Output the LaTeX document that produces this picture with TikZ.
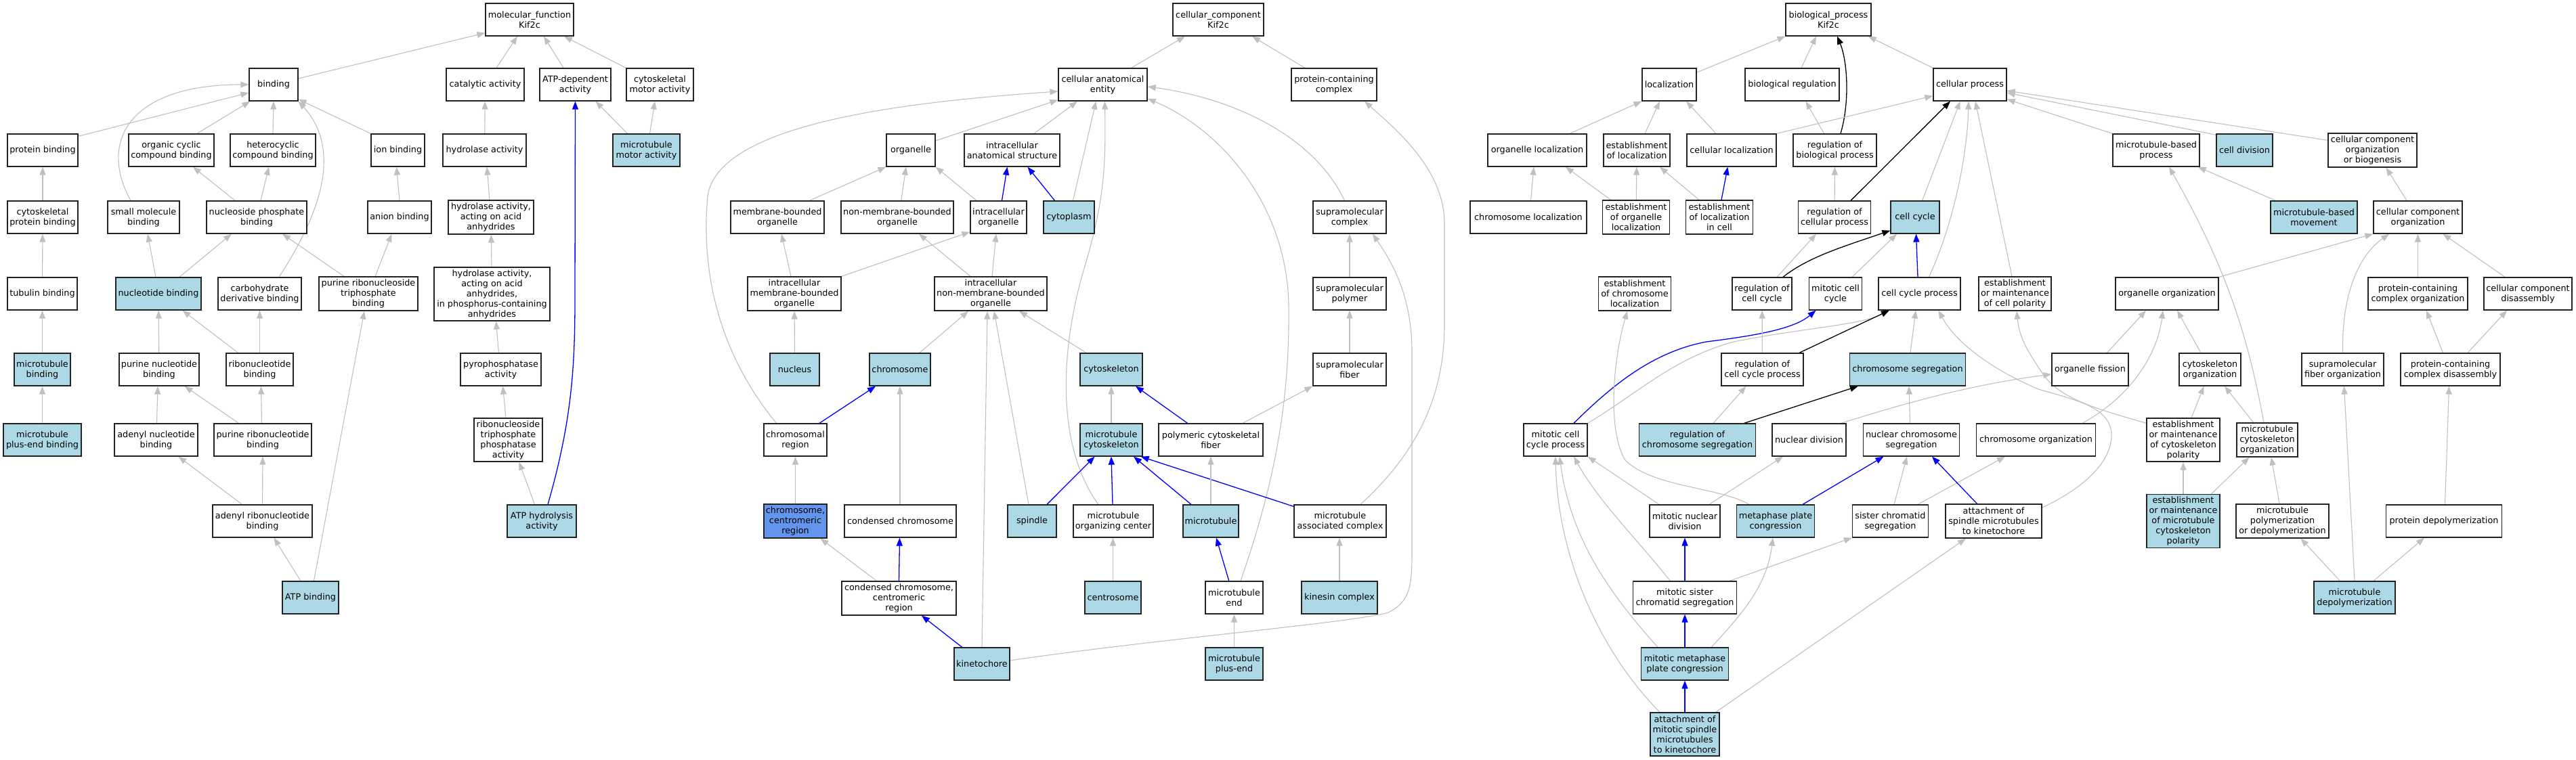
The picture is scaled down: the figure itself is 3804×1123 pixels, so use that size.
\documentclass[tikz,border=0pt]{standalone}
\usepackage{fontspec}
\setmainfont{DejaVu Sans}
\usetikzlibrary{arrows.meta,backgrounds}
\definecolor{lb}{HTML}{ADD8E6}
\definecolor{cfb}{HTML}{6495ED}
\definecolor{eg}{HTML}{C0C0C0}
\definecolor{bd}{HTML}{222222}
\newcommand{\nd}[7]{\node[box,fill=#6,minimum width=#4pt,minimum height=#5pt] (#1) at (#2,#3) {#7};}
\begin{document}
\begin{tikzpicture}[x=1pt,y=-1pt,
 box/.style={draw=bd,line width=1.3pt,inner sep=0pt,align=center,font=\fontsize{12.8}{15}\selectfont},
 ge/.style={draw=eg,line width=1.1pt,-{Triangle[length=12pt,width=9pt]}},
 be/.style={draw=blue,line width=1.3pt,-{Triangle[length=12pt,width=9pt]}},
 ke/.style={draw=black,line width=1.3pt,-{Triangle[length=12pt,width=9pt]}}]
\useasboundingbox (0,0) rectangle (3804,1123);
% ---------- MF nodes
\nd{mf}{782}{29}{130}{48}{white}{molecular\_function\\Kif2c}
\nd{binding}{404}{125}{72}{48}{white}{binding}
\nd{catalytic}{716.5}{125}{115}{48}{white}{catalytic activity}
\nd{atpdep}{849.5}{125}{105}{48}{white}{ATP-dependent\\activity}
\nd{cytomotor}{974.5}{125}{99}{48}{white}{cytoskeletal\\motor activity}
\nd{protbind}{63}{222}{104}{48}{white}{protein binding}
\nd{organic}{253}{222}{126}{48}{white}{organic cyclic\\compound binding}
\nd{hetero}{403}{222}{126}{48}{white}{heterocyclic\\compound binding}
\nd{ionbind}{587.5}{222}{79}{48}{white}{ion binding}
\nd{hydrolase}{715.5}{222}{123}{48}{white}{hydrolase activity}
\nd{mtmotor}{954.5}{222}{99}{48}{lb}{microtubule\\motor activity}
\nd{cytoprot}{63}{321}{104}{48}{white}{cytoskeletal\\protein binding}
\nd{smallmol}{212}{321}{106}{48}{white}{small molecule\\binding}
\nd{nucphos}{379}{321}{148}{48}{white}{nucleoside phosphate\\binding}
\nd{anion}{590}{321}{94}{48}{white}{anion binding}
\nd{hydacid}{725}{321}{126}{50}{white}{hydrolase activity,\\acting on acid\\anhydrides}
\nd{tubulin}{62.5}{434}{103}{48}{white}{tubulin binding}
\nd{nucleotide}{234}{434}{126}{48}{lb}{nucleotide binding}
\nd{carb}{383.5}{434}{123}{48}{white}{carbohydrate\\derivative binding}
\nd{prtp}{544}{434}{146}{50}{white}{purine ribonucleoside\\triphosphate\\binding}
\nd{hydphos}{726.5}{434.5}{171}{79}{white}{hydrolase activity,\\acting on acid\\anhydrides,\\in phosphorus-containing\\anhydrides}
\nd{mtbind}{62.5}{546}{83}{48}{lb}{microtubule\\binding}
\nd{purnuc}{235}{546}{118}{48}{white}{purine nucleotide\\binding}
\nd{ribonuc}{383.5}{546}{99}{48}{white}{ribonucleotide\\binding}
\nd{pyro}{739.5}{546}{119}{48}{white}{pyrophosphatase\\activity}
\nd{mtplus}{62.5}{650}{115}{48}{lb}{microtubule\\plus-end binding}
\nd{adenyl}{230.5}{650}{123}{48}{white}{adenyl nucleotide\\binding}
\nd{purribo}{388}{650}{144}{48}{white}{purine ribonucleotide\\binding}
\nd{rtpp}{750.5}{650}{101}{64}{white}{ribonucleoside\\triphosphate\\phosphatase\\activity}
\nd{adenylribo}{387.5}{770}{147}{48}{white}{adenyl ribonucleotide\\binding}
\nd{atphyd}{800}{770}{102}{48}{lb}{ATP hydrolysis\\activity}
\nd{atpbind}{458.5}{883}{83}{48}{lb}{ATP binding}
% ---------- CC nodes
\nd{cc}{1799}{29}{134}{48}{white}{cellular\_component\\Kif2c}
\nd{cae}{1628.5}{125}{131}{48}{white}{cellular anatomical\\entity}
\nd{pcc}{1970}{125}{126}{48}{white}{protein-containing\\complex}
\nd{organelle}{1345}{222}{72}{48}{white}{organelle}
\nd{ias}{1494.5}{222}{141}{48}{white}{intracellular\\anatomical structure}
\nd{mbo}{1148}{321}{138}{48}{white}{membrane-bounded\\organelle}
\nd{nmbo}{1325}{321}{166}{48}{white}{non-membrane-bounded\\organelle}
\nd{intorg}{1474.5}{321}{83}{48}{white}{intracellular\\organelle}
\nd{cytoplasm}{1578.5}{321}{75}{48}{lb}{cytoplasm}
\nd{supcomplex}{1993}{321}{108}{48}{white}{supramolecular\\complex}
\nd{imbo}{1173}{434}{138}{50}{white}{intracellular\\membrane-bounded\\organelle}
\nd{inmbo}{1463}{434}{166}{50}{white}{intracellular\\non-membrane-bounded\\organelle}
\nd{suppolymer}{1993}{434}{108}{48}{white}{supramolecular\\polymer}
\nd{nucleus}{1173.5}{546}{73}{48}{lb}{nucleus}
\nd{chromosome}{1329}{546}{90}{48}{lb}{chromosome}
\nd{cytoskeleton}{1641}{546}{92}{48}{lb}{cytoskeleton}
\nd{supfiber}{1993}{546}{108}{48}{white}{supramolecular\\fiber}
\nd{chromreg}{1174.5}{650}{93}{48}{white}{chromosomal\\region}
\nd{mtcyto}{1641}{650}{92}{48}{lb}{microtubule\\cytoskeleton}
\nd{pcf}{1788}{650}{154}{48}{white}{polymeric cytoskeletal\\fiber}
\nd{ccr}{1174.5}{770}{93}{50}{cfb}{chromosome,\\centromeric\\region}
\nd{condchrom}{1329.5}{770}{165}{48}{white}{condensed chromosome}
\nd{spindle}{1524}{770}{72}{48}{lb}{spindle}
\nd{mtoc}{1644}{770}{118}{48}{white}{microtubule\\organizing center}
\nd{microtubule}{1788}{770}{82}{48}{lb}{microtubule}
\nd{mac}{1979}{770}{136}{48}{white}{microtubule\\associated complex}
\nd{cccr}{1327.5}{884}{169}{50}{white}{condensed chromosome,\\centromeric\\region}
\nd{centrosome}{1643.5}{883}{83}{48}{lb}{centrosome}
\nd{mtend}{1822.5}{883}{85}{48}{white}{microtubule\\end}
\nd{kinesin}{1978}{883}{112}{48}{lb}{kinesin complex}
\nd{kinetochore}{1450}{981}{82}{48}{lb}{kinetochore}
\nd{mtplusend}{1822.5}{981}{85}{48}{lb}{microtubule\\plus-end}
% ---------- BP nodes
\nd{bp}{2700}{29}{126}{48}{white}{biological\_process\\Kif2c}
\nd{localization}{2465}{125}{80}{48}{white}{localization}
\nd{bioreg}{2646.5}{125}{139}{48}{white}{biological regulation}
\nd{cellproc}{2909}{125}{108}{48}{white}{cellular process}
\nd{orgloc}{2270}{222}{146}{48}{white}{organelle localization}
\nd{estloc}{2417}{222}{98}{48}{white}{establishment\\of localization}
\nd{cellloc}{2557}{222}{132}{48}{white}{cellular localization}
\nd{regbp}{2709.5}{222}{123}{48}{white}{regulation of\\biological process}
\nd{mtbp}{3184}{222}{128}{48}{white}{microtubule-based\\process}
\nd{celldiv}{3314.5}{222}{83}{48}{lb}{cell division}
\nd{ccob}{3503.5}{222}{131}{50}{white}{cellular component\\organization\\or biogenesis}
\nd{chromloc}{2257}{321}{172}{48}{white}{chromosome localization}
\nd{estorgloc}{2416}{321}{99}{50}{white}{establishment\\of organelle\\localization}
\nd{estlocincell}{2539}{321}{99}{50}{white}{establishment\\of localization\\in cell}
\nd{regcp}{2709}{321}{107}{48}{white}{regulation of\\cellular process}
\nd{cellcycle}{2828}{321}{72}{48}{lb}{cell cycle}
\nd{mtbmove}{3417}{321}{128}{48}{lb}{microtubule-based\\movement}
\nd{cco}{3570.5}{321}{131}{48}{white}{cellular component\\organization}
\nd{regcc}{2602}{434}{88}{48}{white}{regulation of\\cell cycle}
\nd{mitcc}{2710.5}{434}{78}{48}{white}{mitotic cell\\cycle}
\nd{ccp}{2834.5}{434}{121}{48}{white}{cell cycle process}
\nd{emcellpol}{2975.5}{434}{107}{50}{white}{establishment\\or maintenance\\of cell polarity}
\nd{estchromloc}{2414}{434}{107}{50}{white}{establishment\\of chromosome\\localization}
\nd{orgorg}{3200}{434}{152}{48}{white}{organelle organization}
\nd{pcco}{3570.5}{434}{147}{48}{white}{protein-containing\\complex organization}
\nd{ccd}{3733}{434}{130}{48}{white}{cellular component\\disassembly}
\nd{regccp}{2602.5}{546}{121}{48}{white}{regulation of\\cell cycle process}
\nd{chromseg}{2817}{546}{171}{48}{lb}{chromosome segregation}
\nd{orgfission}{3086.5}{546}{113}{48}{white}{organelle fission}
\nd{cytoorg}{3263.5}{546}{91}{48}{white}{cytoskeleton\\organization}
\nd{sfo}{3459.5}{546}{121}{48}{white}{supramolecular\\fiber organization}
\nd{pccd}{3618.5}{546}{147}{48}{white}{protein-containing\\complex disassembly}
\nd{mccp}{2297}{650}{94}{48}{white}{mitotic cell\\cycle process}
\nd{regchromseg}{2506.5}{650}{172}{48}{lb}{regulation of\\chromosome segregation}
\nd{nucdiv}{2671.5}{650}{109}{48}{white}{nuclear division}
\nd{ncs}{2822.5}{650}{142}{48}{white}{nuclear chromosome\\segregation}
\nd{chromorg}{3006.5}{650}{176}{48}{white}{chromosome organization}
\nd{emcp}{3224}{650}{108}{64}{white}{establishment\\or maintenance\\of cytoskeleton\\polarity}
\nd{mco}{3348}{650}{90}{50}{white}{microtubule\\cytoskeleton\\organization}
\nd{mnd}{2488}{770}{104}{48}{white}{mitotic nuclear\\division}
\nd{mpc}{2622}{770}{115}{48}{lb}{metaphase plate\\congression}
\nd{scs}{2791.5}{770}{112}{48}{white}{sister chromatid\\segregation}
\nd{asmk}{2944}{770}{142}{50}{white}{attachment of\\spindle microtubules\\to kinetochore}
\nd{emmcp}{3224}{770}{108}{79}{lb}{establishment\\or maintenance\\of microtubule\\cytoskeleton\\polarity}
\nd{mpod}{3370.5}{770}{137}{50}{white}{microtubule\\polymerization\\or depolymerization}
\nd{protdepol}{3609}{770}{171}{48}{white}{protein depolymerization}
\nd{mscs}{2488}{883}{153}{48}{white}{mitotic sister\\chromatid segregation}
\nd{mtdepol}{3477}{883}{120}{48}{lb}{microtubule\\depolymerization}
\nd{mmpc}{2488}{981}{129}{48}{lb}{mitotic metaphase\\plate congression}
\nd{amsmk}{2488}{1085}{102}{64}{lb}{attachment of\\mitotic spindle\\microtubules\\to kinetochore}
\begin{scope}[on background layer]
\fill[white] (0,0) rectangle (3804,1123);
% ---------- MF edges
\draw[ge] ([yshift=9pt]binding.east) -- ([yshift=5pt]mf.south west);
\draw[ge] ([xshift=16.5pt]catalytic.north) -- ([xshift=-18pt]mf.south);
\draw[ge] ([xshift=-17.5pt]atpdep.north) -- ([xshift=21pt]mf.south);
\draw[ge] (cytomotor.north west) -- ([xshift=51pt]mf.south);
\draw[ge] ([yshift=-4pt]protbind.north east) -- ([yshift=-12pt]binding.west);
\draw[ge] ([xshift=-19pt]smallmol.north) .. controls (145,210) and (190,125) .. (binding.west);
\draw[ge] ([xshift=38pt]organic.north) -- ([xshift=2pt]binding.south west);
\draw[ge] (hetero.north) -- (binding.south);
\draw[ge] ([xshift=28.5pt]carb.north) .. controls (490,290) and (495,210) .. (binding.south east);
\draw[ge] (ionbind.north west) -- ([yshift=3pt]binding.south east);
\draw[ge] ([xshift=-32pt]nucphos.north) -- ([xshift=32pt]organic.south);
\draw[ge] ([xshift=6pt]nucphos.north) -- ([xshift=-6pt]hetero.south);
\draw[ge] (cytoprot) -- (protbind);
\draw[ge] (tubulin) -- (cytoprot);
\draw[ge] (mtbind) -- (tubulin);
\draw[ge] (mtplus) -- (mtbind);
\draw[ge] (anion.north) -- ([xshift=-2pt]ionbind.south);
\draw[ge] (hydrolase) -- (catalytic);
\draw[ge] ([xshift=-2pt]hydacid.north) -- ([xshift=3.5pt]hydrolase.south);
\draw[ge] (hydphos) -- (hydacid);
\draw[ge] ([xshift=-3pt]pyro.north) -- ([xshift=6pt]hydphos.south);
\draw[ge] ([xshift=-3.5pt]rtpp.north) -- ([xshift=3pt]pyro.south);
\draw[ge] ([xshift=-10.5pt]atphyd.north) -- ([xshift=16pt]rtpp.south);
\draw[be] ([xshift=9pt]atphyd.north) .. controls (845,620) and (849,540) .. (849,440) -- (atpdep.south);
\draw[ge] ([xshift=22pt]mtmotor.north west) -- ([xshift=30pt]atpdep.south);
\draw[ge] ([xshift=5pt]mtmotor.north) -- ([xshift=-7.5pt]cytomotor.south);
\draw[ge] ([xshift=-4pt]nucleotide.north) -- ([xshift=6pt]smallmol.south);
\draw[ge] ([xshift=31pt]nucleotide.north) -- ([xshift=-37pt]nucphos.south);
\draw[ge] ([xshift=-36pt]prtp.north) -- ([xshift=38pt]nucphos.south);
\draw[ge] ([xshift=10pt]prtp.north) -- ([xshift=-11.5pt]anion.south);
\draw[ge] (purnuc) -- (nucleotide);
\draw[ge] ([xshift=-32pt]ribonuc.north) -- ([xshift=35.6pt]nucleotide.south);
\draw[ge] (ribonuc) -- (carb);
\draw[ge] ([xshift=1pt]adenyl.north) -- ([xshift=-2pt]purnuc.south);
\draw[ge] ([xshift=-35.4pt]purribo.north) -- ([xshift=37.6pt]purnuc.south);
\draw[ge] ([xshift=-1.5pt]purribo.north) -- ([xshift=2pt]ribonuc.south);
\draw[ge] ([xshift=-30pt]adenylribo.north) -- ([xshift=33pt]adenyl.south);
\draw[ge] (adenylribo) -- (purribo);
\draw[ge] ([xshift=-14.5pt]atpbind.north) -- ([xshift=17pt]adenylribo.south);
\draw[ge] ([xshift=5pt]atpbind.north) -- ([xshift=-6pt]prtp.south);
% ---------- CC edges
\draw[ge] ([xshift=42pt]cae.north) -- ([xshift=-49pt]cc.south);
\draw[ge] ([xshift=-43pt]pcc.north) -- ([xshift=50pt]cc.south);
\draw[ge] ([yshift=14pt]organelle.east) -- ([yshift=2pt]cae.south west);
\draw[ge] ([xshift=32.5pt]ias.north) -- ([xshift=-37.5pt]cae.south);
\draw[ge] ([xshift=6pt]cytoplasm.north) -- ([xshift=-10pt]cae.south);
\draw[ge] ([xshift=-22pt]mtoc.north) .. controls (1560,660) and (1565,520) .. (1600,400) .. controls (1630,300) and (1633,250) .. ([xshift=3pt]cae.south);
\draw[be] ([xshift=-21pt]cytoplasm.north) -- ([xshift=23pt]ias.south);
\draw[be] ([xshift=5pt]intorg.north) -- ([xshift=-7pt]ias.south);
\draw[ge] ([xshift=47.5pt]mbo.north) -- (organelle.south west);
\draw[ge] ([xshift=5.7pt]nmbo.north) -- ([xshift=-7pt]organelle.south);
\draw[ge] ([xshift=-32.5pt]intorg.north) -- (organelle.south east);
\draw[ge] ([xshift=-28pt]chromreg.north) .. controls (1060,520) and (1035,400) .. (1045,290) .. controls (1060,180) and (1350,150) .. ([yshift=-10pt]cae.west);
\draw[ge] ([xshift=-5pt]imbo.north) -- ([xshift=6pt]mbo.south);
\draw[ge] (imbo.north east) -- ([yshift=3pt]intorg.south west);
\draw[ge] ([xshift=-30pt]inmbo.north) -- ([xshift=32pt]nmbo.south);
\draw[ge] ([xshift=2pt]inmbo.north) -- ([xshift=-3.5pt]intorg.south);
\draw[ge] (nucleus) -- (imbo);
\draw[ge] ([xshift=29pt]chromosome.north) -- ([xshift=-33pt]inmbo.south);
\draw[ge] ([xshift=-37pt]cytoskeleton.north) -- ([xshift=42pt]inmbo.south);
\draw[ge] ([xshift=-5pt]spindle.north) -- ([xshift=5pt]inmbo.south);
\draw[ge] (kinetochore.north) -- ([xshift=-5pt]inmbo.south);
\draw[ge] ([xshift=9.5pt]mtend.north) .. controls (1880,720) and (1905,600) .. (1903,450) .. controls (1900,300) and (1800,190) .. ([yshift=4pt]cae.south east);
\draw[ge] ([xshift=-7.6pt]supcomplex.north) .. controls (1940,200) and (1820,145) .. ([yshift=-3pt]cae.east);
\draw[ge] ([xshift=30pt]mac.north) .. controls (2080,680) and (2133,600) .. (2133,480) -- (2133,330) .. controls (2133,250) and (2060,190) .. ([xshift=45pt]pcc.south);
\draw[ge] ([yshift=5pt]kinetochore.east) .. controls (1700,945) and (2000,920) .. (2050,905) .. controls (2080,890) and (2085,870) .. (2085,820) -- (2085,520) .. controls (2085,430) and (2050,380) .. ([xshift=34pt]supcomplex.south);
\draw[ge] (suppolymer) -- (supcomplex);
\draw[ge] (supfiber) -- (suppolymer);
\draw[ge] ([xshift=47pt]pcf.north) -- (supfiber.south west);
\draw[be] ([xshift=-34.4pt]pcf.north) -- ([xshift=36pt]cytoskeleton.south);
\draw[ge] (mtcyto) -- (cytoskeleton);
\draw[be] ([xshift=35.5pt]chromreg.north) -- ([xshift=-36pt]chromosome.south);
\draw[ge] (ccr) -- (chromreg);
\draw[ge] ([xshift=-0.5pt]condchrom.north) -- (chromosome.south);
\draw[be] (cccr.north) -- ([xshift=-1pt]condchrom.south);
\draw[ge] ([xshift=-33pt]cccr.north) -- ([xshift=37pt]ccr.south);
\draw[be] ([xshift=-29.3pt]kinetochore.north) -- ([xshift=33.5pt]cccr.south);
\draw[be] ([xshift=22pt]spindle.north) -- ([xshift=-24.5pt]mtcyto.south);
\draw[be] ([xshift=-1pt]mtoc.north) -- (mtcyto.south);
\draw[be] ([xshift=-29pt]microtubule.north) -- ([xshift=33pt]mtcyto.south);
\draw[be] ([yshift=-3pt]mac.north west) -- ([xshift=-3pt]mtcyto.south east);
\draw[ge] (microtubule) -- (pcf);
\draw[be] ([xshift=-7.7pt]mtend.north) -- ([xshift=8pt]microtubule.south);
\draw[ge] (centrosome.north) -- ([xshift=-0.5pt]mtoc.south);
\draw[ge] (kinesin.north) -- ([xshift=-1pt]mac.south);
\draw[ge] (mtplusend) -- (mtend);
% ---------- BP edges
\draw[ge] ([yshift=18pt]localization.east) -- (bp.south west);
\draw[ge] ([xshift=13.5pt]bioreg.north) -- ([xshift=-18pt]bp.south);
\draw[ke] ([xshift=8.5pt]regbp.north) .. controls (2732,150) and (2728,90) .. ([xshift=13pt]bp.south);
\draw[ge] (cellproc.north west) -- ([xshift=-5pt]bp.south east);
\draw[ge] ([xshift=48pt]orgloc.north) -- (localization.south west);
\draw[ge] ([xshift=12pt]estloc.north) -- ([xshift=-14pt]localization.south);
\draw[ge] ([xshift=-23pt]cellloc.north) -- ([xshift=25pt]localization.south);
\draw[ge] (cellloc.north east) -- ([yshift=8pt]cellproc.south west);
\draw[ge] ([xshift=-16pt]regbp.north) -- ([xshift=20pt]bioreg.south);
\draw[ge] ([xshift=3.5pt]chromloc.north) -- ([xshift=-5pt]orgloc.south);
\draw[ge] ([xshift=-37.4pt]estorgloc.north) -- ([xshift=42pt]orgloc.south);
\draw[ge] (estorgloc) -- (estloc);
\draw[ge] ([xshift=-30pt]estlocincell.north) -- ([xshift=34pt]estloc.south);
\draw[be] ([xshift=3pt]estlocincell.north) -- ([xshift=-5.7pt]cellloc.south);
\draw[ge] (regcp) -- (regbp);
\draw[ke] ([xshift=24pt]regcp.north) -- ([xshift=-29pt]cellproc.south);
\draw[ge] ([xshift=10.6pt]cellcycle.north) -- ([xshift=-14.4pt]cellproc.south);
\draw[ge] ([xshift=14pt]ccp.north) .. controls (2885,330) and (2905,230) .. ([xshift=-2pt]cellproc.south);
\draw[ge] ([xshift=-4.5pt]emcellpol.north) -- ([xshift=8pt]cellproc.south);
\draw[ge] (mtbp.north west) -- ([yshift=3pt]cellproc.south east);
\draw[ge] ([yshift=-2pt]celldiv.north west) -- ([yshift=-12pt]cellproc.east);
\draw[ge] ([yshift=-11pt]ccob.north west) -- ([yshift=-9pt]cellproc.east);
\draw[ge] ([xshift=8pt]mtbmove.north west) -- ([xshift=-3pt]mtbp.south east);
\draw[ge] ([xshift=-16.5pt]cco.north) -- ([xshift=20pt]ccob.south);
\draw[ge] (orgorg.north east) -- (cco.south west);
\draw[ge] (sfo.north) .. controls (3458,440) and (3480,380) .. ([xshift=-42.5pt]cco.south);
\draw[ge] (pcco) -- (cco);
\draw[ge] ([xshift=-34pt]ccd.north) -- ([xshift=37pt]cco.south);
\draw[ge] ([xshift=25pt]orgfission.north) -- ([xshift=-31pt]orgorg.south);
\draw[ge] ([xshift=68.5pt]chromorg.north) .. controls (3140,590) and (3185,530) .. ([xshift=-6pt]orgorg.south);
\draw[ge] ([xshift=-13.5pt]cytoorg.north) -- ([xshift=15pt]orgorg.south);
\draw[ge] ([xshift=-5pt]mco.north) .. controls (3320,500) and (3290,400) .. ([xshift=19pt]mtbp.south);
\draw[ge] ([xshift=-20.4pt]mco.north) -- ([xshift=21.5pt]cytoorg.south);
\draw[ge] ([xshift=12pt]emcp.north) -- ([xshift=-9pt]cytoorg.south);
\draw[ge] ([yshift=-8pt]emcp.north west) .. controls (3100,605) and (3040,590) .. (3015,550) .. controls (2995,520) and (2982,500) .. ([xshift=2.5pt]emcellpol.south);
\draw[ge] ([yshift=20pt]asmk.east) .. controls (3080,720) and (3120,680) .. (3118,640) .. controls (3115,600) and (3060,590) .. (3010,575) .. controls (2950,550) and (2890,510) .. ([xshift=28pt]ccp.south);
\draw[be] ([xshift=-2.5pt]ccp.north) -- ([xshift=1.5pt]cellcycle.south);
\draw[ge] ([xshift=24.5pt]mitcc.north) -- ([xshift=-27pt]cellcycle.south);
\draw[ke] ([xshift=31pt]regcc.north) .. controls (2670,380) and (2720,365) .. ([yshift=5pt]cellcycle.south west);
\draw[ge] ([xshift=22pt]regcc.north) -- ([xshift=-27pt]regcp.south);
\draw[be] ([xshift=27pt]mccp.north) .. controls (2380,570) and (2440,520) .. (2520,505) .. controls (2600,495) and (2650,485) .. ([xshift=-29pt]mitcc.south);
\draw[ge] (mccp.north east) .. controls (2420,580) and (2470,530) .. (2560,505) .. controls (2660,485) and (2750,480) .. ([xshift=16pt]ccp.south west);
\draw[ke] ([xshift=54.5pt]regccp.north) -- ([xshift=-44.5pt]ccp.south);
\draw[ge] (regccp) -- (regcc);
\draw[ge] ([xshift=4pt]chromseg.north) -- ([xshift=-5.5pt]ccp.south);
\draw[ge] ([xshift=23.5pt]regchromseg.north) -- ([xshift=-24pt]regccp.south);
\draw[ke] ([xshift=69pt]regchromseg.north) -- ([xshift=13pt]chromseg.south west);
\draw[ge] ([xshift=-8pt]nucdiv.north east) .. controls (2800,600) and (2900,570) .. ([yshift=-7pt]orgfission.west);
\draw[ge] ([xshift=-2pt]ncs.north) -- ([xshift=2pt]chromseg.south);
\draw[ge] ([xshift=-38pt]mnd.north) -- (mccp.south east);
\draw[ge] ([xshift=36pt]mnd.north) -- ([xshift=-38.5pt]nucdiv.south);
\draw[be] ([xshift=40pt]mpc.north) -- ([xshift=-41pt]ncs.south);
\draw[ge] ([xshift=-39pt]mpc.north) .. controls (2540,720) and (2440,720) .. (2400,680) .. controls (2375,640) and (2380,540) .. ([xshift=-11pt]estchromloc.south);
\draw[ge] ([xshift=5.5pt]scs.north) -- ([xshift=-6.5pt]ncs.south);
\draw[ge] ([xshift=40.5pt]scs.north) -- ([xshift=-45.5pt]chromorg.south);
\draw[be] ([xshift=-24.5pt]asmk.north) -- ([xshift=30.5pt]ncs.south);
\draw[ge] (emmcp) -- (emcp);
\draw[ge] ([xshift=41.5pt]emmcp.north) -- ([xshift=-26.5pt]mco.south);
\draw[ge] ([xshift=-4.5pt]mpod.north) -- ([xshift=6pt]mco.south);
\draw[ge] ([xshift=1.5pt]protdepol.north) -- ([xshift=-2pt]pccd.south);
\draw[ge] ([xshift=-11pt]pccd.north) -- ([xshift=12.5pt]pcco.south);
\draw[ge] ([xshift=25.5pt]pccd.north) -- ([xshift=-31pt]ccd.south);
\draw[ge] ([xshift=-21.6pt]mtdepol.north) -- ([xshift=27pt]mpod.south);
\draw[ge] (mtdepol.north) -- ([xshift=2pt]sfo.south);
\draw[ge] ([xshift=28pt]mtdepol.north) -- ([xshift=-29pt]protdepol.south);
\draw[be] (mscs) -- (mnd);
\draw[ge] ([xshift=-11pt]mscs.north east) -- (scs.south west);
\draw[ge] ([xshift=-21.5pt]mscs.north) .. controls (2420,800) and (2360,740) .. ([xshift=27pt]mccp.south);
\draw[be] (mmpc) -- (mscs);
\draw[ge] ([xshift=39pt]mmpc.north) .. controls (2580,900) and (2610,860) .. ([xshift=-4pt]mpc.south);
\draw[ge] ([xshift=-40pt]mmpc.north) .. controls (2380,880) and (2320,800) .. ([xshift=6pt]mccp.south);
\draw[be] (amsmk) -- (mmpc);
\draw[ge] ([xshift=-37pt]amsmk.north) .. controls (2360,960) and (2300,820) .. (mccp.south);
\draw[ge] ([xshift=-6pt]amsmk.north east) -- ([xshift=-41pt]asmk.south);
\end{scope}
\end{tikzpicture}
\end{document}
